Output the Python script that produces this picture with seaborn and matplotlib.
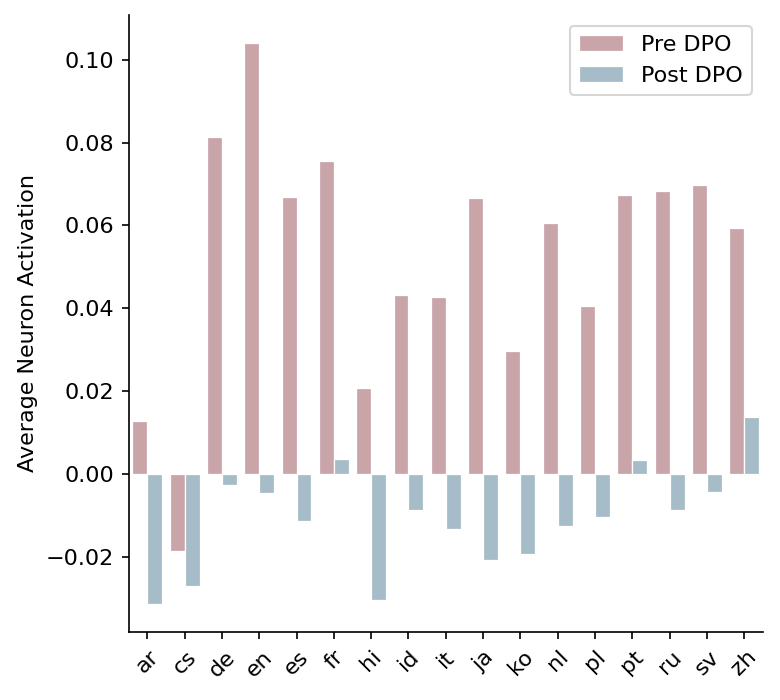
import numpy as np
import pandas as pd
import matplotlib
matplotlib.use('Agg')
import matplotlib.pyplot as plt
import seaborn as sns

languages = ["ar", "cs", "de", "en", "es", "fr", "hi", "id", "it", "ja",
             "ko", "nl", "pl", "pt", "ru", "sv", "zh"]
pre_dpo = [0.0128, -0.0186, 0.0814, 0.1041, 0.0669, 0.0756, 0.0208, 0.0432, 0.0428,
           0.0667, 0.0297, 0.0606, 0.0406, 0.0674, 0.0684, 0.0698, 0.0594]
post_dpo = [-0.0314, -0.0271, -0.0027, -0.0047, -0.0113, 0.0035, -0.0304, -0.0086, -0.0134,
            -0.0207, -0.0194, -0.0125, -0.0105, 0.0033, -0.0086, -0.0043, 0.0137]

df = pd.DataFrame({
    "lang": languages * 2,
    "value": pre_dpo + post_dpo,
    "stage": ["Pre DPO"] * len(languages) + ["Post DPO"] * len(languages),
})

plt.rcParams['font.family'] = ['DejaVu Sans']
plt.rcParams['font.size'] = 10.7

fig, ax = plt.subplots(figsize=(5.2, 4.6667), dpi=150)
sns.barplot(data=df, x="lang", y="value", hue="stage",
            palette=["#c9a5aa", "#a6bcc8"], saturation=1,
            edgecolor="white", linewidth=0.6, ax=ax)

ax.set_xlabel("")
ax.set_ylabel("Average Neuron Activation")
plt.setp(ax.get_xticklabels(), rotation=45)
sns.despine(ax=ax)
ax.legend(title=None, loc="upper right")

plt.subplots_adjust(left=0.165, right=0.978, top=0.979, bottom=0.097)
fig.savefig("out.png")
